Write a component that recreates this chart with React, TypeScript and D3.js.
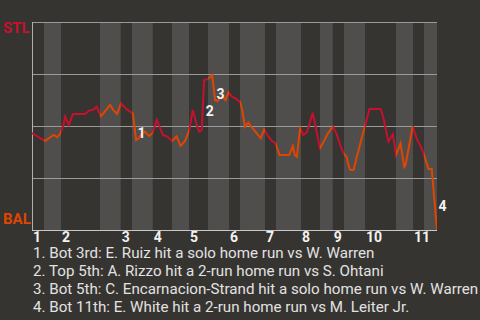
import React from "react";
import * as d3 from "d3";

// Game progress (0–100) for each plate appearance and St. Louis win probability (%) after it
const progress = [
  0, 1.2, 2.2, 3.2,
  4.2, 5.4, 6.2, 6.9,
  7.7, 8.2, 9.1, 10.1, 11.6, 13.1, 14.1, 15.1, 16.0,
  17.0, 18.0, 19.3, 20.0, 21.0, 22.0,
  23.4, 24.9,
  25.7, 26.3, 27.0, 27.9, 28.9, 29.8,
  30.8, 31.8, 32.3, 33.1, 33.8, 34.6,
  35.7, 36.7, 37.8, 38.8,
  39.7, 40.7, 41.3, 41.9, 42.5, 43.3,
  44.5, 45.2, 45.8, 46.4, 47.2, 47.8, 48.5,
  49.3, 50.4, 51.4,
  51.9, 52.6, 53.4, 54.5, 55.5, 56.5, 57.3,
  58.1, 59.2, 60.1,
  61.1, 62.2, 63.5, 64.4, 64.9, 65.4, 66.2,
  67.0, 67.9, 69.3, 70.1, 71.1,
  72.1, 73.1, 74.3,
  75.2, 76.1, 76.9,
  77.7, 78.2, 78.6, 79.4, 80.2, 81.4, 82.2,
  83.3, 84.7, 86.1, 86.7, 88.0, 89.1, 89.9,
  91.0, 91.9, 92.2, 93.1, 94.0,
  95.0, 96.2, 96.8,
  97.9, 98.7, 100,
];

const stlWinPct = [
  46.6, 45.2, 44.0, 42.8,
  44.2, 45.7, 44.6, 46.0,
  50.0, 54.5, 50.5, 55.8, 55.8, 55.8, 57.4, 57.8, 59.3,
  54.6, 57.0, 60.1, 57.9, 55.8, 60.8,
  58.0, 56.1,
  43.3, 44.1, 45.9, 47.3, 45.2, 46.6,
  52.9, 48.1, 45.7, 45.2, 44.2, 42.8,
  45.0, 40.4, 42.8, 47.8,
  57.7, 50.5, 47.3, 48.1, 72.1, 72.5,
  74.4, 62.5, 62.0, 63.5, 63.8, 62.5, 66.2,
  64.2, 63.0, 61.5,
  57.7, 49.7, 51.6, 48.9, 46.5, 44.1, 48.4,
  45.7, 42.9, 41.7,
  36.1, 36.1, 36.1, 40.4, 36.1, 35.2, 48.9,
  45.7, 47.1, 56.3, 49.0, 39.3,
  42.8, 46.6, 49.8,
  46.2, 40.9, 36.9,
  35.1, 30.8, 28.8, 28.8, 35.2, 44.1, 49.8,
  58.2, 58.2, 58.2, 54.5, 42.5, 46.0, 36.1,
  41.7, 30.3, 31.0, 40.4, 49.8,
  43.8, 39.3, 36.1,
  29.3, 29.3, 0,
];

// Where each half inning begins on the progress scale (top 1st, bottom 1st, top 2nd, ...)
const halfInningStarts = [
  0, 2.96, 7.16, 16.79, 21.9, 24.69, 29.8, 34.57, 38.77, 43.46, 48.64,
  51.36, 57.53, 60.25, 66.42, 71.11, 74.25, 77.04, 82.22, 89.88, 94.07, 96.79,
];
const gameEnd = 100;

const inningLabels = ["1", "2", "3", "4", "5", "6", "7", "8", "9", "10", "11"];

// Home runs: the plate appearance index where each happened
const homeRunPlays = [25, 45, 48, 109];
const homeRunNotes = [
  "1. Bot 3rd: E. Ruiz hit a solo home run vs W. Warren",
  "2. Top 5th: A. Rizzo hit a 2-run home run vs S. Ohtani",
  "3. Bot 5th: C. Encarnacion-Strand hit a solo home run vs W. Warren",
  "4. Bot 11th: E. White hit a 2-run home run vs M. Leiter Jr.",
];

const awayTeam = "STL";
const homeTeam = "BAL";

const W = 480;
const H = 320;
const BG = "#363431";
const BAND = "#4f4e4c";
const AWAY_COLOR = "#c8102e";
const HOME_COLOR = "#df4601";
const FONT = "Roboto, 'Noto Sans', sans-serif";

export default function App() {
  const x = d3.scaleLinear().domain([0, gameEnd]).range([32, 437]);
  const y = d3.scaleLinear().domain([0, 100]).range([230, 22]);

  const points: [number, number][] = progress.map((p, i) => [p, stlWinPct[i]]);
  const line = d3
    .line<[number, number]>()
    .x((d) => x(d[0]))
    .y((d) => y(d[1]))(points) as string;

  const halves = halfInningStarts.map((s, i) => ({
    start: s,
    end: i + 1 < halfInningStarts.length ? halfInningStarts[i + 1] : gameEnd,
    bottom: i % 2 === 1,
  }));
  const tops = halves.filter((h) => !h.bottom);
  const bottoms = halves.filter((h) => h.bottom);

  const gridValues = [0, 25, 50, 75, 100];

  return (
    <svg
      width={W}
      height={H}
      style={{ position: "fixed", left: 0, top: 0, display: "block" }}
      fontFamily={FONT}
    >
      <rect width={W} height={H} fill={BG} />
      <defs>
        <clipPath id="clip-top">
          {tops.map((h, i) => (
            <rect key={i} x={x(h.start)} y={0} width={x(h.end) - x(h.start)} height={H} />
          ))}
        </clipPath>
        <clipPath id="clip-bottom">
          {bottoms.map((h, i) => (
            <rect key={i} x={x(h.start)} y={0} width={x(h.end) - x(h.start)} height={H} />
          ))}
        </clipPath>
      </defs>

      {bottoms.map((h, i) => (
        <rect
          key={i}
          x={x(h.start)}
          y={y(100)}
          width={x(h.end) - x(h.start)}
          height={y(0) - y(100)}
          fill={BAND}
        />
      ))}

      {gridValues.map((v) => (
        <line
          key={v}
          x1={x(0)}
          x2={x(gameEnd)}
          y1={y(v)}
          y2={y(v)}
          stroke={v === 0 ? "#c8c8c8" : "#9a9a9a"}
          strokeWidth={1}
          shapeRendering="crispEdges"
        />
      ))}
      <line
        x1={x(0)}
        x2={x(0)}
        y1={y(100)}
        y2={y(0)}
        stroke="#b0b0b0"
        strokeWidth={1}
        shapeRendering="crispEdges"
      />

      <path d={line} fill="none" stroke={AWAY_COLOR} strokeWidth={2} clipPath="url(#clip-top)" />
      <path d={line} fill="none" stroke={HOME_COLOR} strokeWidth={2} clipPath="url(#clip-bottom)" />

      {homeRunPlays.map((idx, i) => (
        <text
          key={i}
          x={x(progress[idx]) + 1.5}
          y={(y(stlWinPct[idx - 1]) + y(stlWinPct[idx])) / 2 + 11}
          fill="#f2f2f2"
          fontSize={14}
          fontWeight="bold"
        >
          {i + 1}
        </text>
      ))}

      <text x={3} y={33} fill={AWAY_COLOR} fontSize={15} fontWeight="bold">
        {awayTeam}
      </text>
      <text x={3} y={224} fill={HOME_COLOR} fontSize={15} fontWeight="bold">
        {homeTeam}
      </text>

      {inningLabels.map((lab, i) => (
        <text
          key={lab}
          x={x(halfInningStarts[i * 2]) + 1}
          y={242}
          fill="#f2f2f2"
          fontSize={14}
          fontWeight="bold"
        >
          {lab}
        </text>
      ))}

      {homeRunNotes.map((t, i) => (
        <text key={i} x={33} y={258 + i * 18} fill="#e2e2e2" fontSize={15.15}>
          {t}
        </text>
      ))}
    </svg>
  );
}
